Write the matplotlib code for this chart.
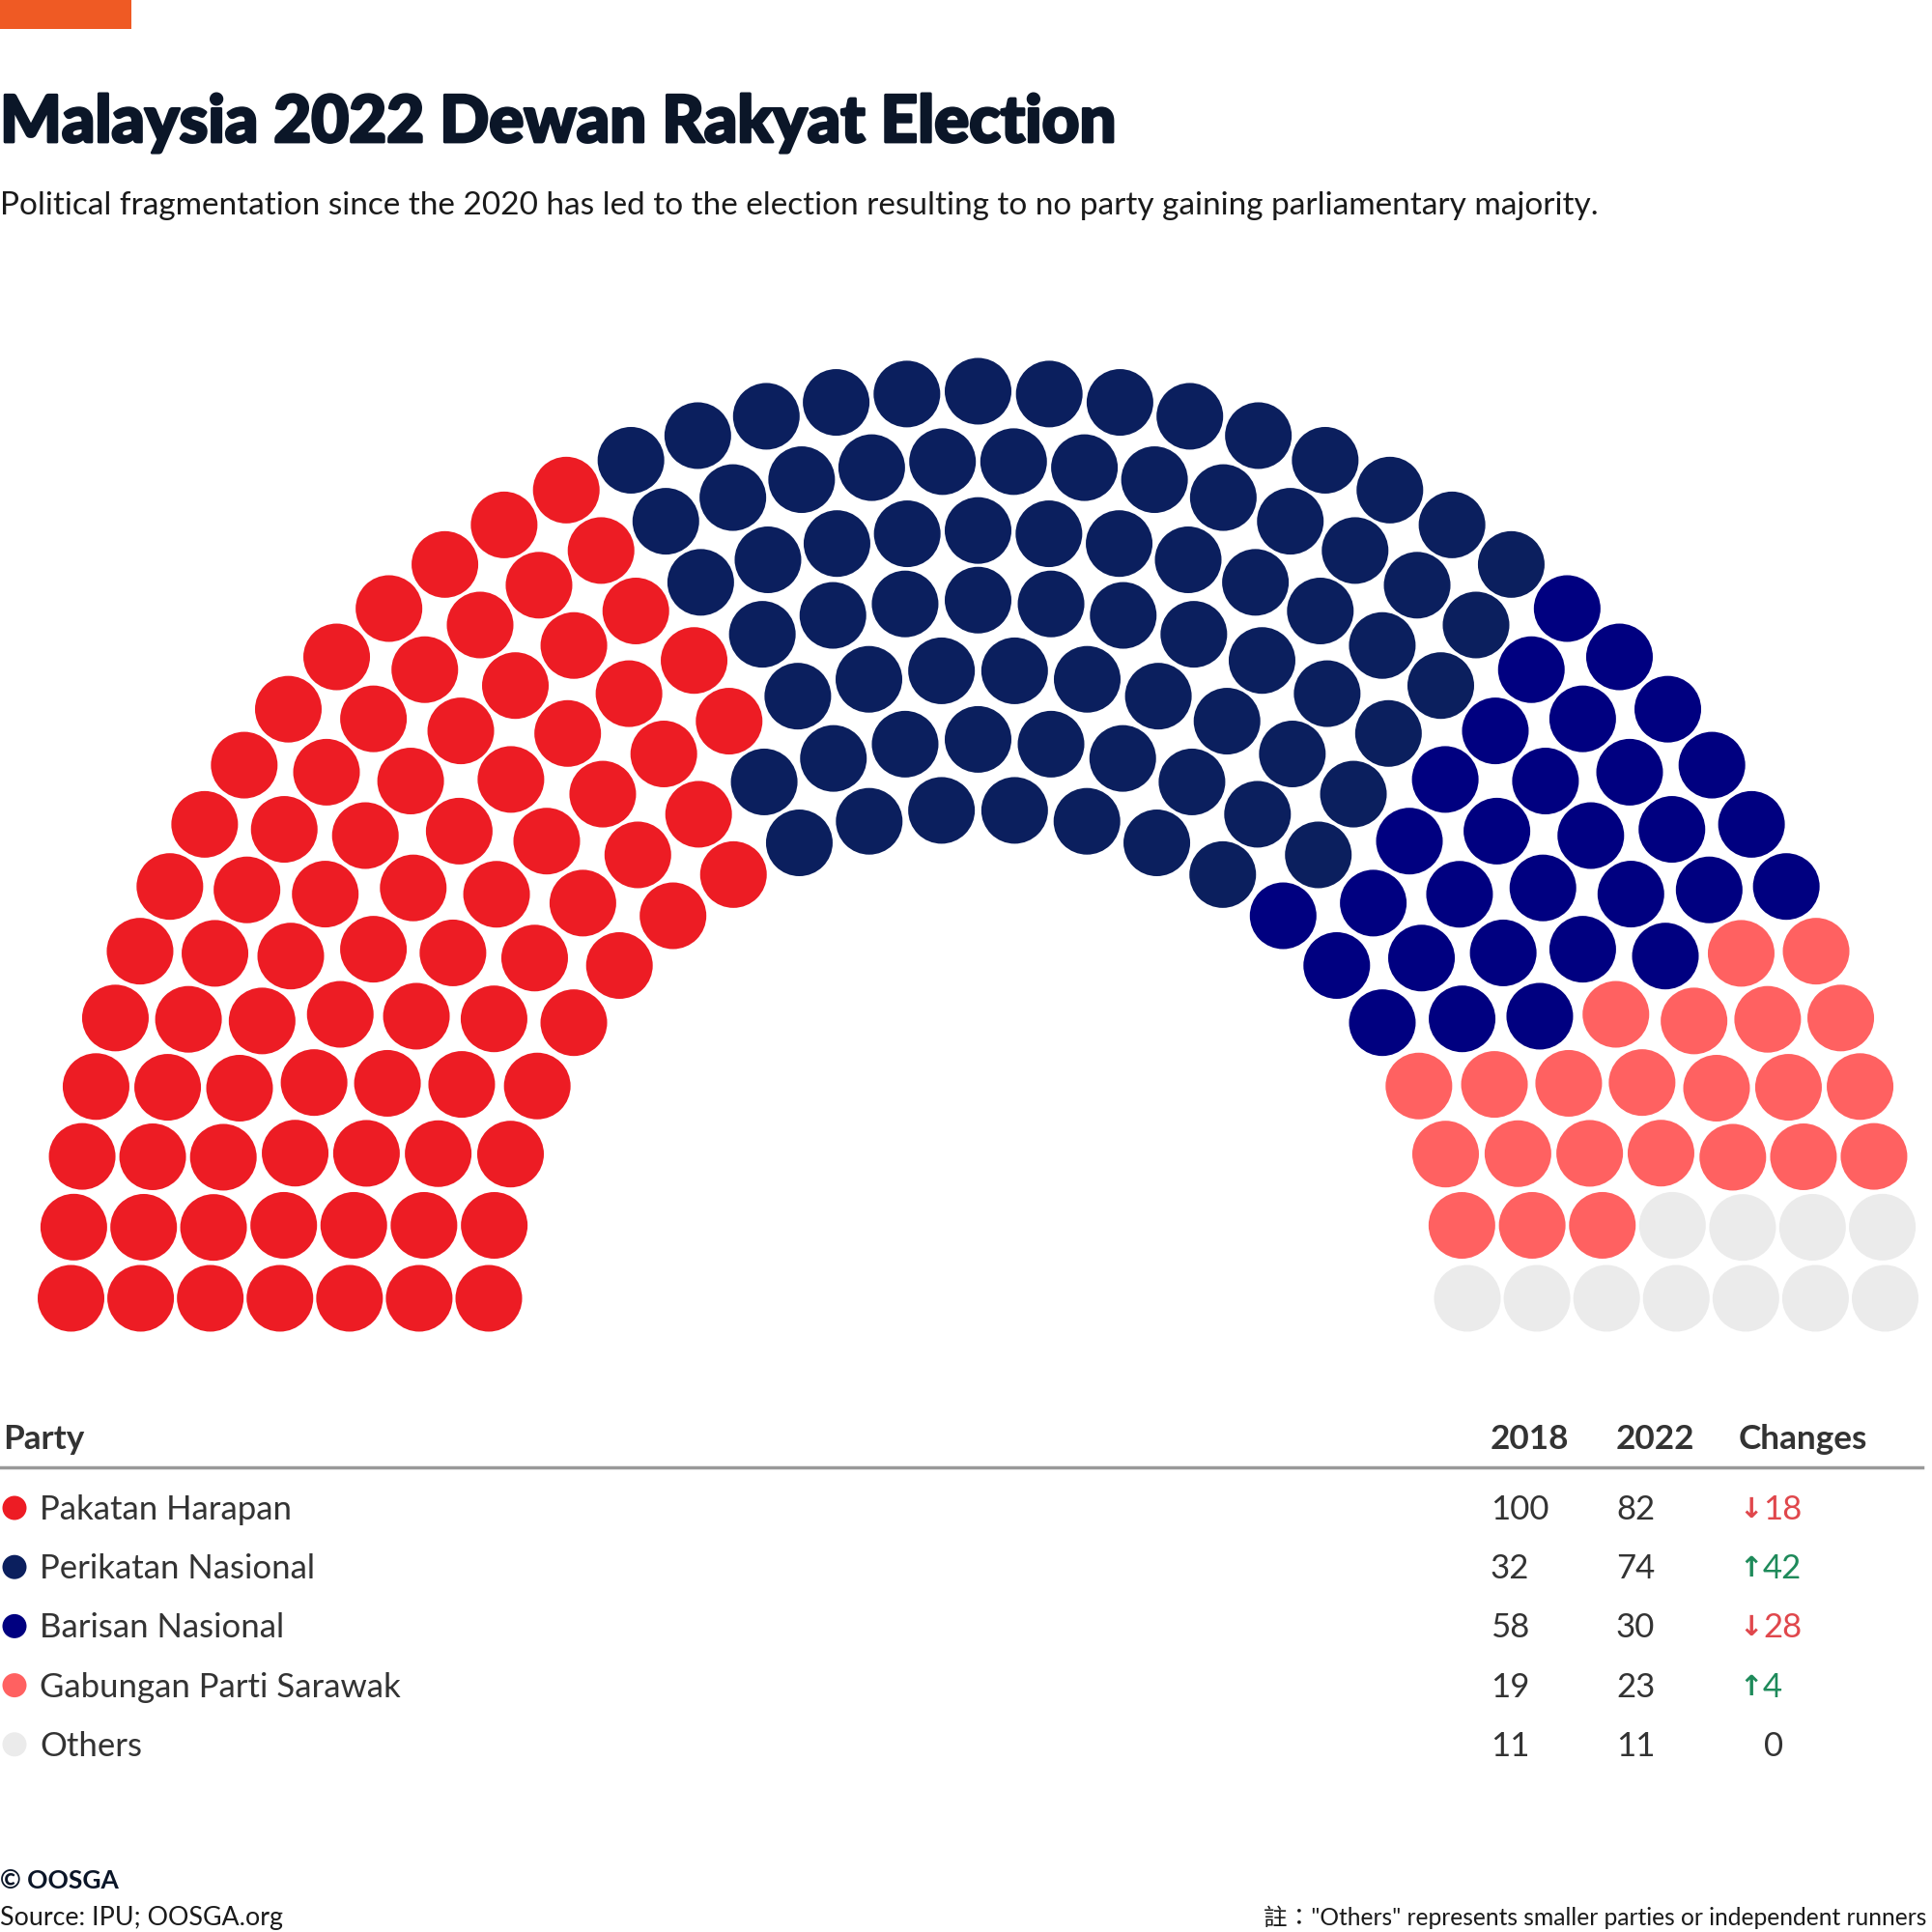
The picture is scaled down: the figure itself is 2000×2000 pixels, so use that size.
import numpy as np
import matplotlib.pyplot as plt
import matplotlib.patheffects as pe
from matplotlib.patches import Circle, Rectangle

## data
parties    = ['Pakatan Harapan', 'Perikatan Nasional', 'Barisan Nasional',
              'Gabungan Parti Sarawak', 'Others']
seats_2018 = [100, 32, 58, 19, 11]
seats_2022 = [82, 74, 30, 23, 11]
colors     = ['#ED1C24', '#0B1F5E', '#000080', '#FF6161', '#EBEBEB']

title    = 'Malaysia 2022 Dewan Rakyat Election'
subtitle = ('Political fragmentation since the 2020 has led to the election '
            'resulting to no party gaining parliamentary majority.')

## hemicycle geometry (pixels)
cx, cy       = 1012.5, 1344.0
r_in, r_out  = 506.5, 939.0
n_rings      = 7
dot_r        = 34.5

total = sum(seats_2022)
radii = np.linspace(r_in, r_out, n_rings)
share = total * radii / radii.sum()
per_ring = np.floor(share).astype(int)
left = total - per_ring.sum()
for i in np.argsort(-(share - per_ring))[:left]:
    per_ring[i] += 1

seats = []
for i, (r, n) in enumerate(zip(radii, per_ring)):
    for j in range(n):
        th = np.pi * (1 - j / (n - 1))
        seats.append((-th, i, cx + r*np.cos(th), cy - r*np.sin(th)))
seats.sort()

seat_colors = []
for c, n in zip(colors, seats_2022):
    seat_colors += [c] * n

fig = plt.figure(figsize=(20, 20), dpi=100)
ax = fig.add_axes([0, 0, 1, 1])
ax.set_xlim(0, 2000)
ax.set_ylim(2000, 0)
ax.axis('off')

for (_, _, x, y), c in zip(seats, seat_colors):
    ax.add_patch(Circle((x, y), dot_r, color=c, lw=0))

## header
ax.add_patch(Rectangle((0, 0), 136, 30, color='#EF5A24', lw=0))
ax.text(0, 147, title, fontsize=48.4, fontweight='black', family='Lato',
        color='#0B1628', va='baseline',
        path_effects=[pe.withStroke(linewidth=2, foreground='#0B1628')])
ax.text(0, 222, subtitle, fontsize=24, family='Lato', color='#1a1a1a',
        va='baseline')

## table
fam = ['Lato', 'DejaVu Sans']
col_x = [3, 1543, 1673, 1800]
hy = 1490
for x, h in zip(col_x, ['Party', '2018', '2022', 'Changes']):
    ax.text(x, hy, h, fontsize=25.3, fontweight='bold', family=fam,
            color='#333333', va='center')
ax.plot([0, 1990], [1519, 1519], color='#999999', lw=2.5)

row_y = 1563
fs = 25
for k, p in enumerate(parties):
    y = row_y + k * 61.2
    ax.add_patch(Circle((15, y - 2), 12.5, color=colors[k], lw=0))
    ax.text(41, y, p, fontsize=fs, family=fam, color='#333333', va='center')
    ax.text(col_x[1], y, str(seats_2018[k]), fontsize=fs, family=fam,
            color='#333333', va='center')
    ax.text(col_x[2], y, str(seats_2022[k]), fontsize=fs, family=fam,
            color='#333333', va='center')
    d = seats_2022[k] - seats_2018[k]
    if d > 0:
        ax.text(col_x[3], y, '\u2191', fontsize=21, fontweight='bold',
                family='DejaVu Sans', color='#1E8A5A', va='center')
        ax.text(1825, y, str(d), fontsize=fs, family=fam, color='#1E8A5A',
                va='center')
    elif d < 0:
        ax.text(col_x[3], y, '\u2193', fontsize=21, fontweight='bold',
                family='DejaVu Sans', color='#E0474C', va='center')
        ax.text(1825, y, str(-d), fontsize=fs, family=fam, color='#E0474C',
                va='center')
    else:
        ax.text(1826, y, '0', fontsize=fs, family=fam, color='#333333',
                va='center')

## footer
ax.text(0, 1955, '\u00a9 OOSGA', fontsize=19, fontweight='bold', family=fam,
        color='#0B1628', va='baseline')
ax.text(0, 1993, 'Source: IPU; OOSGA.org', fontsize=19.3, family=fam,
        color='#1a1a1a', va='baseline')
ax.text(1994, 1993, '\u8a3b\uff1a"Others" represents smaller parties or independent runners',
        fontsize=17.7, family=['Lato', 'Noto Sans CJK TC'], color='#1a1a1a',
        va='baseline', ha='right')

fig.savefig('out.png', dpi=100, facecolor='white')
